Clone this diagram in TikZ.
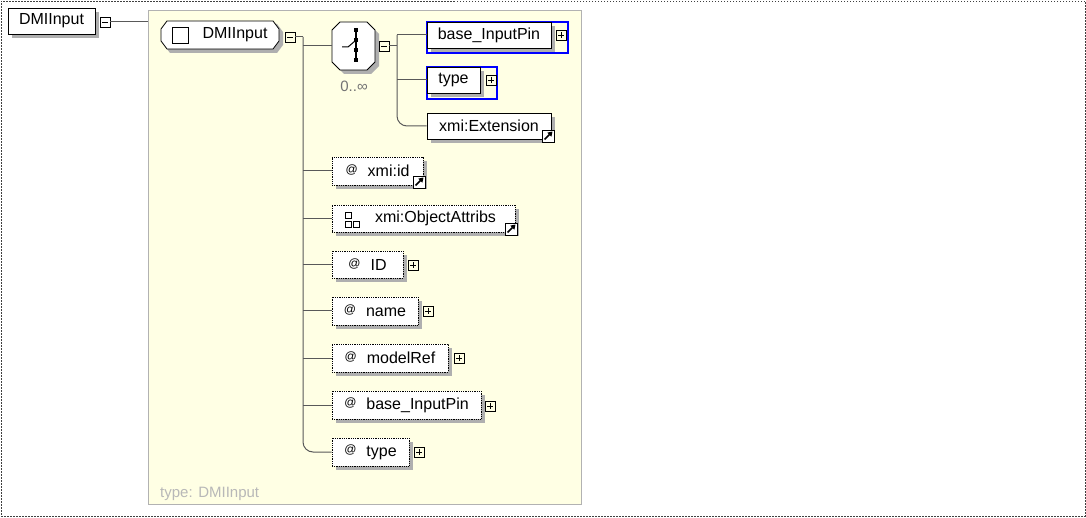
\documentclass[tikz,border=0pt]{standalone}
\usepackage{fontspec}
\setmainfont{Liberation Sans}
\usetikzlibrary{arrows.meta}
\definecolor{panelc}{RGB}{255,255,228}
\definecolor{shadowc}{RGB}{175,175,175}
\definecolor{seqblue}{RGB}{0,0,255}
\pgfdeclarelayer{bgl}
\pgfdeclarelayer{shadowl}
\pgfsetlayers{bgl,shadowl,main}
\newcommand\attat{\raisebox{3pt}{\fontsize{12}{12}\selectfont @}}
\tikzset{
  conn/.style={draw=black!65, line width=1pt},
  elbox/.style={draw=black, line width=0.8pt, fill=white, inner sep=0pt,
    font=\fontsize{16}{18}\selectfont},
  attbox/.style={elbox, densely dotted},
  wrapbox/.style={draw=seqblue, line width=1.1pt, inner sep=0pt},
  pmbox/.style={draw=black, line width=0.7pt, minimum size=10pt, inner sep=0pt},
  minusbox/.style={pmbox, path picture={
      \draw[line width=0.8pt] ([xshift=2pt]path picture bounding box.west) -- ([xshift=-2pt]path picture bounding box.east);}},
  plusbox/.style={pmbox, path picture={
      \draw[line width=0.8pt] ([xshift=2pt]path picture bounding box.west) -- ([xshift=-2pt]path picture bounding box.east);
      \draw[line width=0.8pt] ([yshift=-2pt]path picture bounding box.north) -- ([yshift=2pt]path picture bounding box.south);}},
  linkicon/.style={draw=black, line width=0.8pt, fill=white, minimum size=12pt, inner sep=0pt, path picture={
      \draw[line width=1.6pt, -{Triangle[length=4.5pt,width=5.5pt]}]
        ([shift={(2.5pt,2.5pt)}]path picture bounding box.south west) --
        ([shift={(-1.5pt,-1.5pt)}]path picture bounding box.north east);}},
}
\begin{document}
\begin{tikzpicture}[x=1pt,y=-1pt]
\useasboundingbox (0,0) rectangle (1086,518);
\begin{pgfonlayer}{bgl}
% outer frame
\node[draw=black!75, dash pattern=on 1.5pt off 1.5pt, line width=0.8pt, minimum width=1084pt, minimum height=515pt, inner sep=0pt] (frame) at (543,258.5) {};
% panel
\node[draw=black!30, line width=0.8pt, fill=panelc, minimum width=433pt, minimum height=494pt, inner sep=0pt] (panel) at (364.5,257) {};
\end{pgfonlayer}
\node[anchor=west, text=black!28, font=\fontsize{15}{18}\selectfont, inner sep=0pt] (typelbl) at (160,494) {type: DMIInput};

% root element
\node[elbox, minimum width=87pt, minimum height=26pt] (root) at (51.5,21) {DMIInput};
\node[minusbox] (rm) at (105,22) {};
\draw[conn] (rm.east) -- (rm.east -| panel.west);

% inner element (octagon)
\fill[shadowc] (170,24) -- (277,24) -- (283,32) -- (283,45) -- (277,53) -- (170,53) -- (164,45) -- (164,32) -- cycle;
\draw[line width=0.8pt, fill=white] (167,21) -- (273,21) -- (279,29) -- (279,41) -- (273,49) -- (167,49) -- (161,41) -- (161,29) -- cycle;
\node[minimum width=118pt, minimum height=28pt, inner sep=0pt] (elem) at (220,35) {};
\node[draw=black, line width=0.8pt, fill=white, minimum size=16pt, inner sep=0pt] (elemsq) at (180,35) {};
\node[font=\fontsize{16}{18}\selectfont, inner sep=0pt] (elemlbl) at (235,35) {DMIInput};
\node[minusbox] (em) at (290,37) {};
\coordinate (spine) at (303,37);

% sequence compositor
\fill[shadowc] (344,26) -- (371,26) -- (379,34) -- (379,66) -- (371,74) -- (344,74) -- (336,66) -- (336,34) -- cycle;
\draw[line width=0.8pt, fill=white] (340,22) -- (367,22) -- (375,30) -- (375,62) -- (367,70) -- (340,70) -- (332,62) -- (332,30) -- cycle;
\node[minimum width=43pt, minimum height=48pt, inner sep=0pt] (seq) at (353.5,46) {};
\draw[line width=1.2pt] (356,28) -- (356,62);
\foreach \yy in {30,40,50,60} \fill (354,\yy-2) rectangle (358,\yy+2);
\draw[line width=1pt] (342,47) -- (348,47) -- (355,41);
\node[text=black!55, font=\fontsize{15}{17}\selectfont, inner sep=0pt] (mult) at (354,86) {0..∞};
\node[minusbox] (sm) at (384,46) {};
\coordinate (sspine) at (397,46);

% sequence children
\node[wrapbox, minimum width=141pt, minimum height=31pt] (bipwrap) at (497.5,37.5) {};
\node[elbox, minimum width=124pt, minimum height=26pt] (bip) at (489,35) {base\_InputPin};
\node[plusbox] (bipplus) at (561,35) {};
\node[wrapbox, minimum width=70pt, minimum height=32pt] (typewrap) at (462,83) {};
\node[elbox, minimum width=53pt, minimum height=26pt] (etype) at (453.5,80) {type};
\node[plusbox] (etypeplus) at (491,80) {};
\node[elbox, minimum width=124pt, minimum height=26pt] (ext) at (489,126) {xmi:Extension};
\node[linkicon] (extlink) at (548,136) {};

% attributes
\node[attbox, minimum width=91pt, minimum height=28pt] (aid) at (377.5,171) {\attat\hspace{10pt}xmi:id};
\node[linkicon] (aidlink) at (419,182) {};
\node[attbox, minimum width=183pt, minimum height=27pt] (aoa) at (423.5,218.5) {\hspace{24pt}xmi:ObjectAttribs};
\draw[line width=0.7pt] (345,212) rectangle (351,218) (345,221) rectangle (351,227) (353,221) rectangle (359,227);
\node[linkicon] (aoalink) at (511,229) {};
\node[attbox, minimum width=71pt, minimum height=27pt] (aID) at (367.5,264.5) {\attat\hspace{10pt}ID};
\node[plusbox] (aIDplus) at (413,265) {};
\node[attbox, minimum width=86pt, minimum height=28pt] (aname) at (375,311) {\attat\hspace{10pt}name};
\node[plusbox] (anameplus) at (428,311) {};
\node[attbox, minimum width=116pt, minimum height=28pt] (amodel) at (390,358) {\attat\hspace{10pt}modelRef};
\node[plusbox] (amodelplus) at (459,358) {};
\node[attbox, minimum width=149pt, minimum height=28pt] (abip) at (406.5,405) {\attat\hspace{10pt}base\_InputPin};
\node[plusbox] (abipplus) at (490,406) {};
\node[attbox, minimum width=77pt, minimum height=28pt] (atype) at (370.5,452) {\attat\hspace{10pt}type};
\node[plusbox] (atypeplus) at (419,452) {};

% shadows
\begin{pgfonlayer}{shadowl}
\foreach \n in {root,bip,etype,ext,aid,aoa,aID,aname,amodel,abip,atype}
  \fill[shadowc] ([shift={(4,4)}]\n.north west) rectangle ([shift={(4,4)}]\n.south east);
\end{pgfonlayer}

% connectors: element content
\draw[conn] (em.east) -- (spine);
\draw[conn, rounded corners=10pt] (spine) |- (atype.west);
\draw[conn] (spine |- seq.west) -- (seq.west);
\foreach \n in {aid,aoa,aID,aname,amodel,abip} \draw[conn] (spine |- \n.west) -- (\n.west);

% connectors: sequence
\draw[conn] (sm.east) -- (sspine);
\draw[conn] (bip.west) -- (sspine |- bip.west);
\draw[conn, rounded corners=10pt] (sspine |- bip.west) |- (ext.west);
\draw[conn] (sspine |- etype.west) -- (etype.west);
\end{tikzpicture}
\end{document}
